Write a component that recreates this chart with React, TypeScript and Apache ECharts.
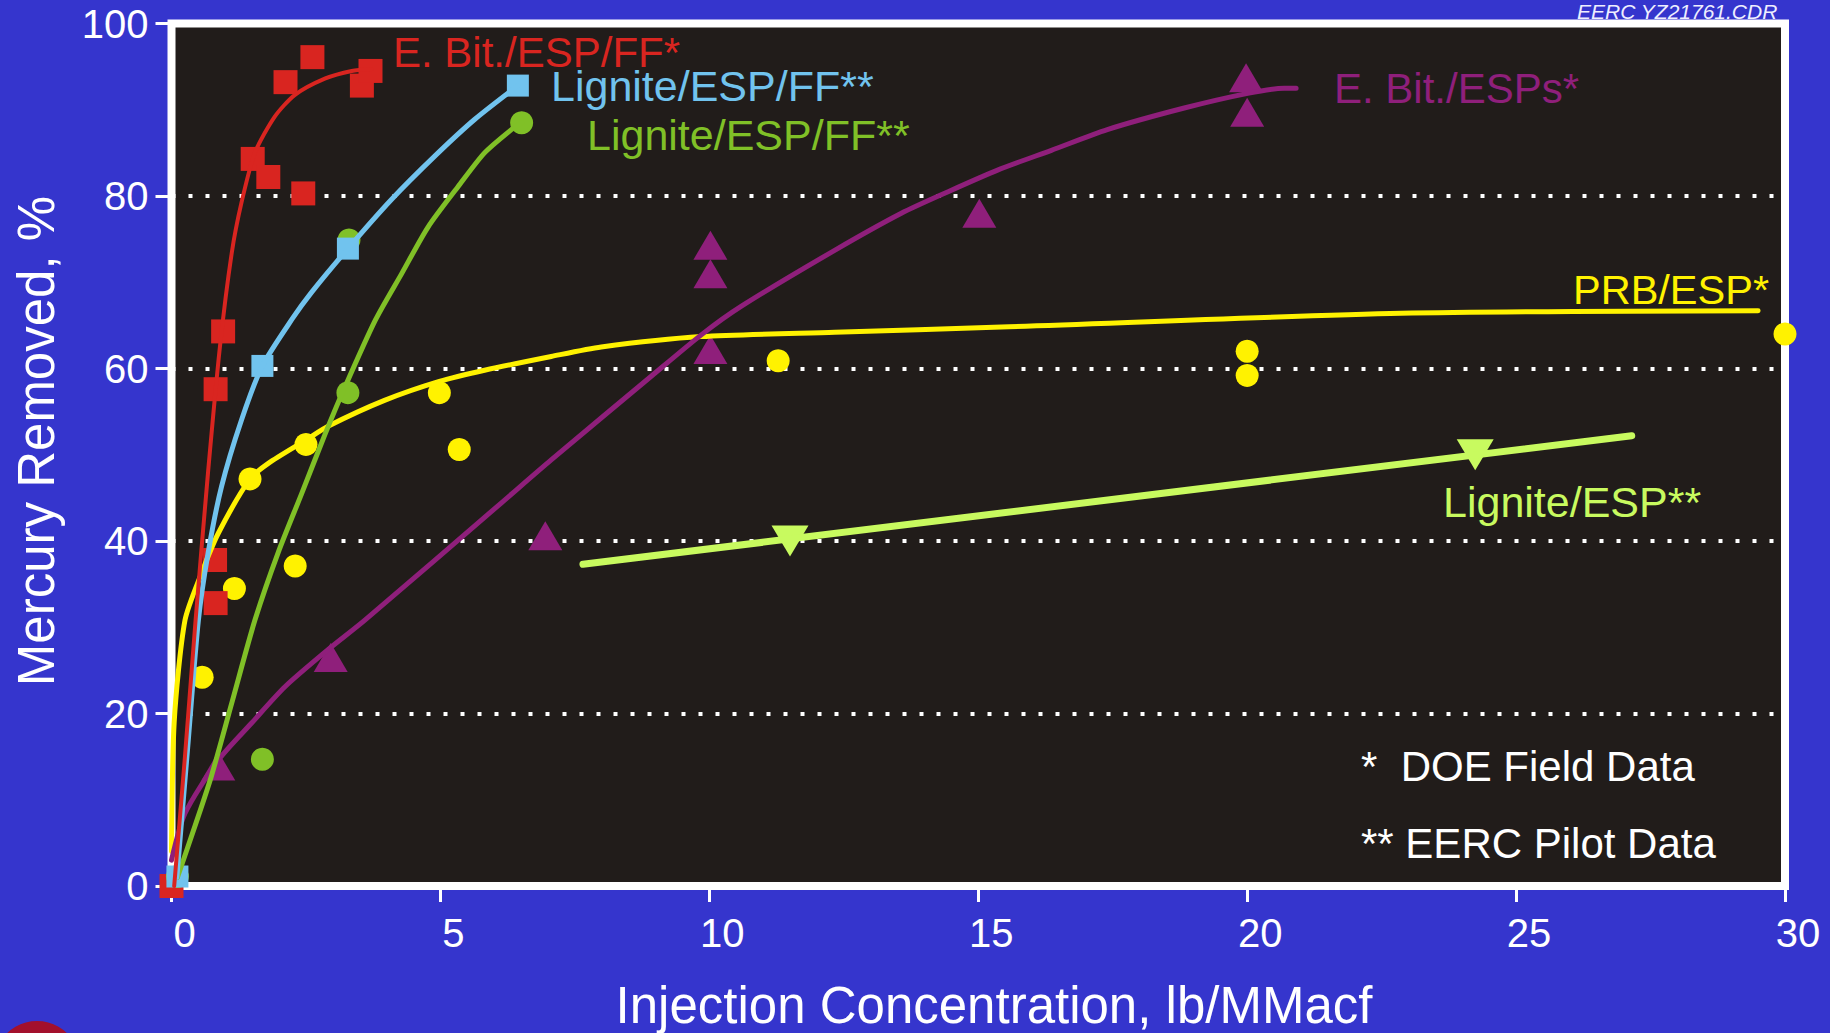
import React, { useEffect, useRef } from "react";
import * as echarts from "echarts";

// ---------- data ----------
const xTickValues = [0, 5, 10, 15, 20, 25, 30];
const yTickValues = [0, 20, 40, 60, 80, 100];

// E. Bit./ESP/FF*  (red squares)
const redPoints = [
  [0, 0], [0.82, 32.8], [0.81, 37.8], [0.82, 57.6], [0.96, 64.3],
  [1.51, 84.3], [1.8, 82.2], [2.45, 80.3], [2.12, 93.2], [2.62, 96.1],
  [3.54, 92.8], [3.7, 94.5],
];
const redCurve = [
  [0.05, 0], [0.25, 15], [0.45, 31], [0.68, 48], [0.9, 62.5], [1.12, 73.4],
  [1.3, 79.2], [1.55, 85], [1.92, 89.2], [2.29, 91.7], [2.85, 93.6],
  [3.35, 94.5], [3.72, 94.7],
];

// Lignite/ESP/FF** (light blue squares)
const bluePoints = [[0.11, 1.1], [1.69, 60.3], [3.28, 73.9], [6.44, 92.8]];
const blueCurve = [
  [0.1, 1], [0.3, 16], [0.5, 30.8], [0.68, 38.6], [0.93, 46.3], [1.3, 54],
  [1.69, 60.3], [2.25, 65.8], [2.6, 68.8], [3.28, 73.9], [4.09, 79.6],
  [4.89, 84.6], [5.64, 88.9], [6.44, 92.8],
];

// Lignite/ESP/FF** (green circles)
const greenPoints = [[0.11, 1.1], [1.69, 14.7], [3.28, 57.2], [3.3, 74.9], [6.51, 88.5]];
const greenCurve = [
  [0.11, 1], [0.45, 7.2], [0.74, 12.7], [1.12, 21.2], [1.55, 30.8],
  [1.98, 38.6], [2.42, 45.5], [2.85, 52.3], [3.2, 57.5], [3.79, 65.6],
  [4.28, 71], [4.77, 76.4], [5.33, 81.1], [5.82, 85], [6.32, 87.7], [6.51, 88.5],
];

// PRB/ESP* (yellow circles)
const yellowPoints = [
  [0.57, 24.2], [1.17, 34.5], [1.46, 47.2], [2.3, 37.1], [2.5, 51.2],
  [4.98, 57.2], [5.35, 50.6], [11.28, 60.9], [20, 62], [20, 59.2], [30, 64],
];
const yellowCurve = [
  [0, 4], [0.05, 19], [0.25, 30.8], [0.56, 36.3], [0.87, 40.9], [1.46, 47.2],
  [1.8, 49.0], [2.5, 51.7], [2.91, 53.3], [3.96, 56.3], [4.98, 58.5], [5.82, 59.8],
  [7.06, 61.4], [7.99, 62.5], [9.85, 63.7], [12.33, 64.2], [15.43, 64.8],
  [22.86, 66.4], [29.5, 66.7],
];

// E. Bit./ESPs* (purple triangles)
const purplePoints = [
  [0.87, 13.9], [2.96, 26.5], [6.95, 40.6], [10.02, 62.2], [10.02, 71],
  [10.02, 74.3], [15.02, 78], [19.98, 93.7], [20, 89.7],
];
const purpleCurve = [
  [0, 3], [0.25, 8.4], [0.87, 14.6], [1.49, 18.9], [2.11, 23.1], [2.91, 27.4],
  [3.59, 30.8], [6.13, 44.4], [7.06, 49.4], [8.92, 59.1],
  [9.85, 63.9], [10.59, 67.2], [12.33, 73.7], [13.57, 78], [14.44, 80.5],
  [15.36, 83], [16.36, 85.3], [17.4, 87.7], [18.83, 90.2], [20.01, 91.9],
  [20.69, 92.5], [20.91, 92.5],
];

// Lignite/ESP** (light green inverted triangles)
const limePoints = [[11.5, 40.0], [24.24, 50.0]];
const limeCurve = [[7.65, 37.3], [27.15, 52.2]];

const seriesLabels = {
  red: "E. Bit./ESP/FF*",
  blue: "Lignite/ESP/FF**",
  green: "Lignite/ESP/FF**",
  purple: "E. Bit./ESPs*",
  yellow: "PRB/ESP*",
  lime: "Lignite/ESP**",
};
const noteLines = ["*  DOE Field Data", "** EERC Pilot Data"];
const xTitle = "Injection Concentration, lb/MMacf";
const yTitle = "Mercury Removed, %";
const fileTag = "EERC YZ21761.CDR";

// ---------- styles ----------
const FONT = "'Liberation Sans', Arial, Helvetica, sans-serif";
const C = {
  page: "#3535cd",
  plot: "#211c1a",
  red: "#d92520",
  blue: "#71c3ee",
  green: "#80c027",
  yellow: "#fff200",
  purple: "#8f1f7b",
  lime: "#c8fa5f",
  white: "#ffffff",
};

function curve(data: number[][], color: string, width: number) {
  return {
    type: "line",
    data,
    smooth: 0.25,
    showSymbol: false,
    symbol: "none",
    clip: false,
    silent: true,
    lineStyle: { color, width, cap: "round", join: "round" },
  };
}

function dots(data: number[][], color: string, symbol: string, size: any, rotate = 0) {
  return {
    type: "scatter",
    data,
    symbol,
    symbolSize: size,
    symbolRotate: rotate,
    clip: false,
    silent: true,
    itemStyle: { color, opacity: 1 },
  };
}

function label(text: string, x: number, y: number, color: string, size: number, extra: any = {}) {
  return {
    type: "text",
    x,
    y,
    silent: true,
    style: {
      text,
      fill: color,
      fontSize: size,
      fontFamily: FONT,
      align: "left",
      verticalAlign: "middle",
      ...extra,
    },
    z: 100,
  };
}

export default function App() {
  const ref = useRef<HTMLDivElement>(null);

  useEffect(() => {
    if (!ref.current) return;
    const chart = echarts.init(ref.current, undefined, { renderer: "svg" });
    const option: any = {
      animation: false,
      backgroundColor: C.page,
      textStyle: { fontFamily: FONT },
      grid: {
        left: 171.5,
        right: 45,
        top: 23.5,
        bottom: 147,
        show: true,
        backgroundColor: C.plot,
        borderColor: C.white,
        borderWidth: 8,
      },
      xAxis: {
        type: "value",
        min: xTickValues[0],
        max: xTickValues[xTickValues.length - 1],
        interval: 5,
        axisLine: { show: false },
        axisTick: { show: true, inside: false, length: 16, lineStyle: { color: C.white, width: 3 } },
        axisLabel: {
          color: C.white,
          fontSize: 40,
          fontFamily: FONT,
          margin: 27,
          padding: [0, 0, 0, 26],
        },
        splitLine: { show: false },
      },
      yAxis: {
        type: "value",
        min: yTickValues[0],
        max: yTickValues[yTickValues.length - 1],
        interval: 20,
        axisLine: { show: false },
        axisTick: { show: true, inside: false, length: 16, lineStyle: { color: C.white, width: 3 } },
        axisLabel: { color: C.white, fontSize: 40, fontFamily: FONT, margin: 23 },
        splitLine: {
          show: true,
          lineStyle: { color: C.white, width: 4, type: [4, 13] },
        },
      },
      series: [
        curve(yellowCurve, C.yellow, 5),
        curve(limeCurve, C.lime, 7),
        curve(purpleCurve, C.purple, 5),
        curve(greenCurve, C.green, 5),
        curve(blueCurve, C.blue, 5),
        curve(redCurve, C.red, 4),
        dots(yellowPoints, C.yellow, "circle", 23),
        dots(purplePoints, C.purple, "triangle", [34, 29]),
        dots(limePoints, C.lime, "triangle", [37, 31], 180),
        dots(redPoints, C.red, "rect", 24),
        dots(greenPoints, C.green, "circle", 23),
        dots(bluePoints, C.blue, "rect", 22),
      ],
      graphic: [
        { type: "circle", shape: { cx: 37, cy: 1064, r: 43 }, style: { fill: "#a3102c" }, silent: true },
        label(seriesLabels.red, 393, 52, C.red, 42),
        label(seriesLabels.blue, 551, 86, C.blue, 43),
        label(seriesLabels.green, 587, 135, C.green, 43),
        label(seriesLabels.purple, 1334, 88, C.purple, 42),
        label(seriesLabels.yellow, 1573, 289, C.yellow, 41.5),
        label(seriesLabels.lime, 1443, 502, C.lime, 43),
        label(noteLines[0], 1361, 766, C.white, 42),
        label(noteLines[1], 1361, 843, C.white, 42),
        label(fileTag, 1577, 11, "#eeeeff", 21, { fontStyle: "italic" }),
        {
          type: "text",
          x: 994,
          y: 1005,
          silent: true,
          style: {
            text: xTitle,
            fill: C.white,
            fontSize: 51,
            fontFamily: FONT,
            align: "center",
            verticalAlign: "middle",
          },
        },
        {
          type: "text",
          x: 36,
          y: 441,
          rotation: Math.PI / 2,
          silent: true,
          style: {
            text: yTitle,
            fill: C.white,
            fontSize: 51,
            fontFamily: FONT,
            align: "center",
            verticalAlign: "middle",
          },
        },
      ],
    };
    chart.setOption(option);
    return () => chart.dispose();
  }, []);

  return (
    <div
      ref={ref}
      style={{ position: "fixed", left: 0, top: 0, width: 1830, height: 1033 }}
    />
  );
}
